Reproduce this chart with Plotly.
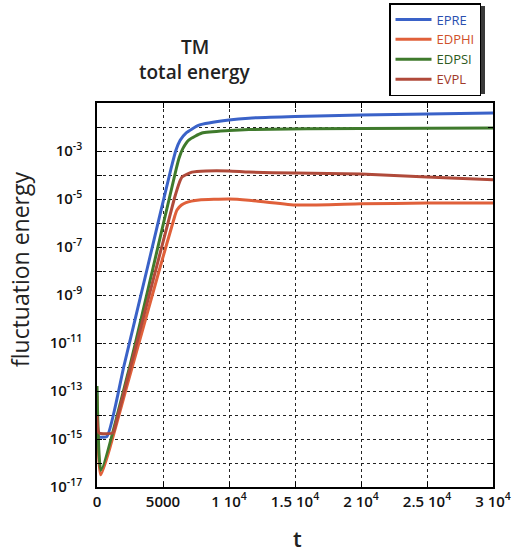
import plotly.graph_objects as go

# ---- data (t, energy) ----
t_epre = [0, 100, 750, 2040, 3810, 5600, 5985, 6300, 6740, 7730, 10000, 11500, 15000, 20000, 25000, 30000]
e_epre = [1e-13, 1.26e-15, 1.26e-15, 1.1e-12, 1.3e-8, 1.78e-4, 1.1e-3, 2.8e-3, 5.6e-3, 1.2e-2, 1.95e-2, 2.34e-2, 2.75e-2, 3.16e-2, 3.47e-2, 3.8e-2]

t_edphi = [0, 280, 2420, 4700, 5900, 6060, 6400, 6740, 7730, 10000, 11500, 15000, 20000, 25000, 30000]
e_edphi = [6.3e-14, 3.2e-17, 3.2e-13, 1e-8, 2e-6, 3.5e-6, 5.6e-6, 7.1e-6, 9.1e-6, 1e-5, 8.9e-6, 5.6e-6, 6.3e-6, 6.8e-6, 6.8e-6]

t_edpsi = [0, 300, 2470, 4190, 6000, 6212, 6500, 6970, 7950, 10000, 11500, 20000, 30000]
e_edpsi = [1.6e-13, 5e-17, 1e-12, 1e-8, 1.78e-4, 5e-4, 1.26e-3, 2.9e-3, 5.6e-3, 7.1e-3, 7.9e-3, 8.7e-3, 9.1e-3]

t_evpl = [0, 150, 1200, 1500, 5850, 6250, 6440, 7200, 8260, 10000, 11500, 15000, 20000, 25000, 30000]
e_evpl = [1e-14, 1.8e-15, 1.8e-15, 6.3e-15, 1e-5, 5e-5, 8.3e-5, 1.32e-4, 1.48e-4, 1.48e-4, 1.32e-4, 1.2e-4, 1.1e-4, 8.3e-5, 6.3e-5]

names = ["EPRE", "EDPHI", "EDPSI", "EVPL"]
line_colors = ["#3a62c8", "#e0603a", "#3f7a2c", "#b04a3a"]
text_colors = ["#2a4fb0", "#d0502a", "#2d5a20", "#a03a2a"]

y_tickvals = [1e-17, 1e-16, 1e-15, 1e-14, 1e-13, 1e-12, 1e-11, 1e-10, 1e-9, 1e-8, 1e-7, 1e-6, 1e-5, 1e-4, 1e-3, 1e-2, 1e-1]
y_ticktext = ["10<sup>-17</sup>", "", "10<sup>-15</sup>", "", "10<sup>-13</sup>", "", "10<sup>-11</sup>", "",
              "10<sup>-9</sup>", "", "10<sup>-7</sup>", "", "10<sup>-5</sup>", "", "10<sup>-3</sup>", "", ""]
x_tickvals = [0, 5000, 10000, 15000, 20000, 25000, 30000]
x_ticktext = ["0", "5000", "1 10<sup>4</sup>", "1.5 10<sup>4</sup>", "2 10<sup>4</sup>", "2.5 10<sup>4</sup>", "3 10<sup>4</sup>"]

FONT = "Open Sans"

fig = go.Figure()
series = [(t_epre, e_epre), (t_edphi, e_edphi), (t_edpsi, e_edpsi), (t_evpl, e_evpl)]
for i in range(4):
    t, e = series[i]
    fig.add_trace(go.Scatter(
        x=t, y=e, mode="lines",
        name=f'<span style="color:{text_colors[i]}">{names[i]}</span>',
        line=dict(color=line_colors[i], width=3, shape="spline", smoothing=0.5),
    ))

axis_common = dict(
    showline=True, linecolor="black", linewidth=1.5, mirror="ticks",
    ticks="inside", ticklen=5, tickcolor="black",
    showgrid=True, gridcolor="#222", griddash="dot", gridwidth=1,
    zeroline=False,
    tickfont=dict(family=FONT, size=15, color="#111", weight=600),
)

fig.update_xaxes(range=[0, 30000], tickvals=x_tickvals, ticktext=x_ticktext, **axis_common)
fig.update_yaxes(type="log", range=[-17, -1], tickvals=y_tickvals, ticktext=y_ticktext,
                 ticklabelstandoff=10, **axis_common)

W, H = 513, 553
L, R, T, B = 97, 20, 103, 66
pw, ph = W - L - R, H - T - B

def px(x):
    return (x - L) / pw

def py(y):
    return (H - B - y) / ph

fig.update_layout(
    width=W, height=H,
    margin=dict(l=L, r=R, t=T, b=B, autoexpand=False),
    paper_bgcolor="white", plot_bgcolor="white",
    showlegend=True,
    legend=dict(
        x=px(389), y=py(3), xanchor="left", yanchor="top",
        bgcolor="white", bordercolor="black", borderwidth=1.5,
        font=dict(family=FONT, size=13, weight=500),
        traceorder="normal", itemwidth=36, tracegroupgap=0,
    ),
    font=dict(family=FONT),
)

# legend drop shadow
fig.add_shape(type="rect", xref="paper", yref="paper",
              x0=px(392), x1=px(485), y0=py(94), y1=py(6),
              fillcolor="#3a3a3a", line=dict(width=0), layer="above")

title_font = dict(family=FONT, size=19, color="#222", weight=600)
fig.add_annotation(text="TM", xref="paper", yref="paper", x=px(195), y=py(47),
                   showarrow=False, font=title_font, xanchor="center", yanchor="middle")
fig.add_annotation(text="total energy", xref="paper", yref="paper", x=px(195), y=py(72),
                   showarrow=False, font=title_font, xanchor="center", yanchor="middle")
fig.add_annotation(text="fluctuation energy", xref="paper", yref="paper", x=px(20), y=py(270),
                   showarrow=False, textangle=-90,
                   font=dict(family=FONT, size=23, color="#222", weight=500),
                   xanchor="center", yanchor="middle")
fig.add_annotation(text="t", xref="paper", yref="paper", x=px(297), y=py(538),
                   showarrow=False, font=dict(family=FONT, size=22, color="#222", weight=600),
                   xanchor="center", yanchor="middle")

fig.write_html("out.html")
